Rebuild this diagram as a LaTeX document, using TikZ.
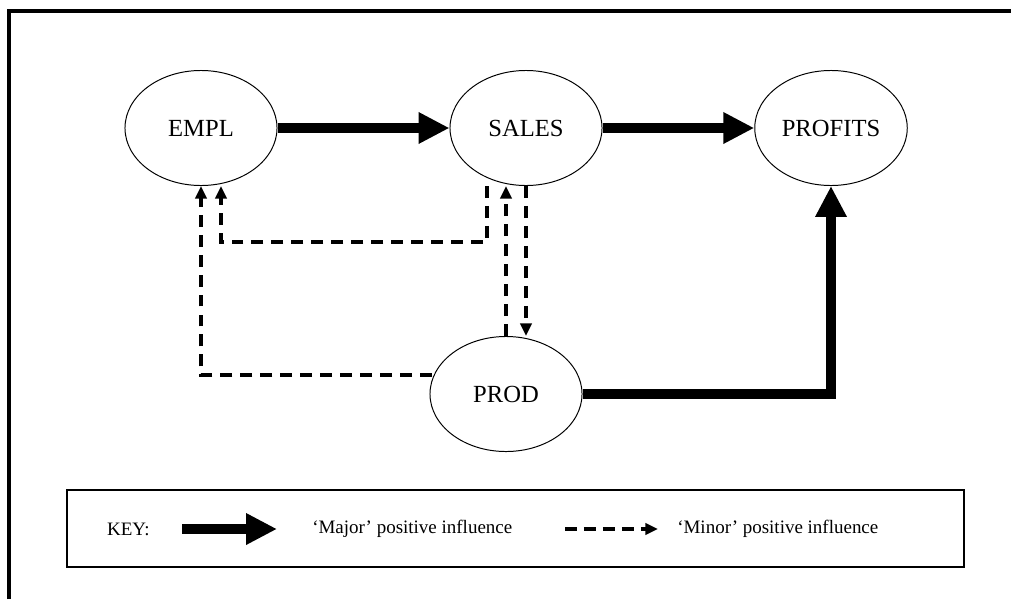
\documentclass[tikz,border=0pt]{standalone}
\usepackage{fontspec}
\setmainfont{Liberation Serif}
\usepackage{tikz}
\usetikzlibrary{arrows.meta,calc,shapes.geometric}

\begin{document}
\begin{tikzpicture}[x=0.025cm,y=-0.025cm,
   ell/.style={draw,ellipse,line width=0.7pt,minimum width=3.8cm,minimum height=2.875cm,font=\fontsize{17.5}{20}\selectfont},
   major/.style={line width=7pt,-{Triangle[width=21pt,length=22pt]}},
   minor/.style={line width=2.4pt,dash pattern=on 8.5pt off 5.7pt,-{Triangle[width=8pt,length=9pt]}},
   keytxt/.style={inner sep=0pt,font=\fontsize{13.5}{16}\selectfont}]
   \useasboundingbox (0,0) rectangle (1011,599);
   \draw[line width=2.8pt] (9,599) -- (9,11) -- (1011,11);

   \draw (201,128) node[ell] (EMPL) {EMPL};
   \draw (526,128) node[ell] (SALES) {SALES};
   \draw (831,128) node[ell] (PROFITS) {PROFITS};
   \draw (506,394) node[ell] (PROD) {PROD};

   \draw[major] (EMPL) -- (SALES);
   \draw[major] (SALES) -- (PROFITS);
   \draw[major] (PROD) -| (PROFITS);

   \draw[minor] ($(SALES.south)+(-39,0)$) -- ++(0,56) -| ($(EMPL.south)+(20,0)$);
   \draw[minor] ($(PROD.center)+(-74,-19)$) -| (EMPL.south);
   \draw[minor] (PROD.north) -- (PROD.north |- SALES.south);
   \draw[minor] (SALES.south) -- (SALES.south |- PROD.north);

   \draw[line width=1.6pt] (67,490) rectangle (964,567);
   \draw (150,529) node[keytxt,anchor=east] (key) {KEY:};
   \coordinate (maj1) at (182,529);
   \coordinate (maj2) at (277,529);
   \draw[major] (maj1) -- (maj2);
   \draw (312,529) node[keytxt,anchor=west] (majtxt) {`Major' positive influence};
   \coordinate (min1) at (565,529);
   \coordinate (min2) at (658,529);
   \draw[minor,line width=2.6pt,dash pattern=on 8.5pt off 5pt] (min1) -- (min2);
   \draw (677,529) node[keytxt,anchor=west] (mintxt) {`Minor' positive influence};
\end{tikzpicture}
\end{document}
